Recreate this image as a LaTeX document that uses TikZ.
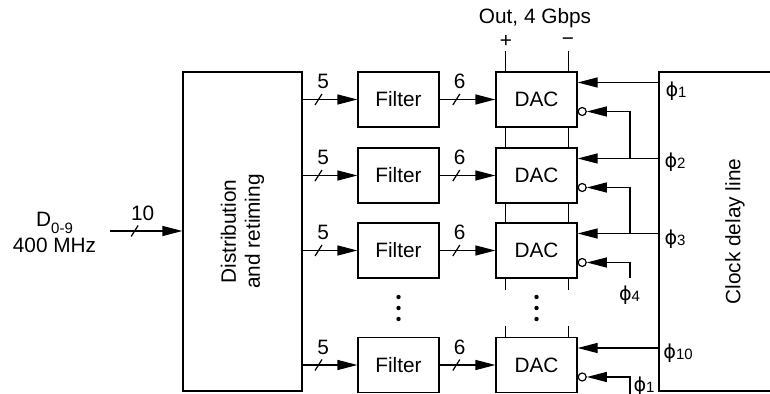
\documentclass[tikz,border=0pt]{standalone}
\usepackage{fontspec}
\setmainfont{Liberation Sans}
\newfontfamily\phifont{DejaVu Sans}
\usetikzlibrary{positioning,arrows.meta}
\newcommand{\lowsub}[2][0.8pt]{\raisebox{-#1}{\fontsize{7.5}{8}\selectfont #2}}
\newcommand{\ph}[1]{{\phifont\fontsize{9.6}{12}\selectfont ϕ}\lowsub{#1}}

\begin{document}
\begin{tikzpicture}[x=0.5pt, y=-0.5pt,
  every node/.style={font=\fontsize{10.4}{12}\selectfont},
  wire/.style={line width=0.6pt},
  sig/.style={wire, -{Triangle[length=10pt, width=5pt]}},
  blk/.style={draw, line width=0.6pt, inner sep=0pt, minimum width=40.5pt, minimum height=27.5pt},
  tallbox/.style={draw, line width=0.6pt, inner sep=0pt, minimum height=159.5pt},
  bub/.style={circle, draw, line width=0.6pt, inner sep=0pt, minimum size=4pt},
  slashmark/.pic={\draw[line width=0.6pt, -] (-1.75pt,-2.75pt) -- (1.75pt,2.75pt);},
  num/.style={inner sep=0pt, above=5pt}]
  \clip (0,0) rectangle (770,394);

  % big blocks
  \node[tallbox, minimum width=59.5pt] (dist) at (242.5,231.5) {};
  \node[rotate=90, align=center] (distlbl) at (dist.center) {Distribution\\and retiming};
  \node[tallbox, minimum width=76pt] (clk) at (735,231.5) {};
  \node[rotate=90] (clklbl) at (clk.center) {Clock delay line};

  % input
  \node[align=center, inner sep=0pt] (din) at (54.5,232) {D\lowsub[3.5pt]{0-9}\\[1pt]400 MHz};
  \coordinate (in) at (110,231);
  \draw[sig] (in) -- pic[pos=0.34]{slashmark} node[num, pos=0.45] {10} (in -| dist.west);

  % filter and DAC rows
  \foreach \i/\y in {1/99.5, 2/175.5, 3/250.5, 4/365} {
    \node[blk] (f\i) at (398.5,\y) {Filter};
    \node[blk] (d\i) at (536.5,\y) {DAC};
    \draw[sig] (f\i -| dist.east) -- pic[pos=0.29]{slashmark} node[num, pos=0.375] {5} (f\i);
    \draw[sig] (f\i) -- pic[pos=0.3]{slashmark} node[num, pos=0.36] {6} (d\i);
    \coordinate (c\i) at ([yshift=8.5pt]d\i.east);
    \node[bub, anchor=west] (b\i) at ([yshift=-6pt]d\i.east) {};
    \draw[sig] (clk.west |- c\i) -- (c\i);
  }

  % clock taps
  \node (ph1) at (676,91) {\ph{1}};
  \node (ph2) at (675,162) {\ph{2}};
  \node (ph3) at (675,239) {\ph{3}};
  \node (ph10) at (678,353) {\ph{10}};

  % inverted clock inputs
  \coordinate (bus) at (630,0);
  \draw[sig] (c2 -| bus) |- (b1);
  \draw[sig] (c3 -| bus) |- (b2);
  \coordinate (t4) at (630,278);
  \draw[sig] (t4) |- (b3);
  \node (ph4) at (629.5,295) {\ph{4}};
  \coordinate (t1) at (630,400);
  \draw[sig] (t1) |- (b4);
  \node (ph1b) at (644,386) {\ph{1}};

  % output rails
  \node (out) at (535,18) {Out, 4 Gbps};
  \node (plus) at (506,42) {+};
  \node (minus) at (568,42) {−};
  \draw[wire] ([xshift=5pt]d1.north west) -- ++(0,-20);
  \draw[wire] ([xshift=-4.5pt]d1.north east) -- ++(0,-20);
  \foreach \i/\j in {1/2, 2/3} {
    \draw[wire] ([xshift=5pt]d\i.south west) -- ([xshift=5pt]d\j.north west);
    \draw[wire] ([xshift=-4.5pt]d\i.south east) -- ([xshift=-4.5pt]d\j.north east);
  }
  \draw[wire] ([xshift=5pt]d3.south west) -- ++(0,11);
  \draw[wire] ([xshift=-4.5pt]d3.south east) -- ++(0,11);
  \draw[wire] ([xshift=5pt]d4.north west) -- ++(0,-11);
  \draw[wire] ([xshift=-4.5pt]d4.north east) -- ++(0,-11);

  % dots
  \foreach \y in {297,308,319} {
    \fill (398.5,\y) circle (1.1pt);
    \fill (536.5,\y) circle (1.1pt);
  }
\end{tikzpicture}
\end{document}
